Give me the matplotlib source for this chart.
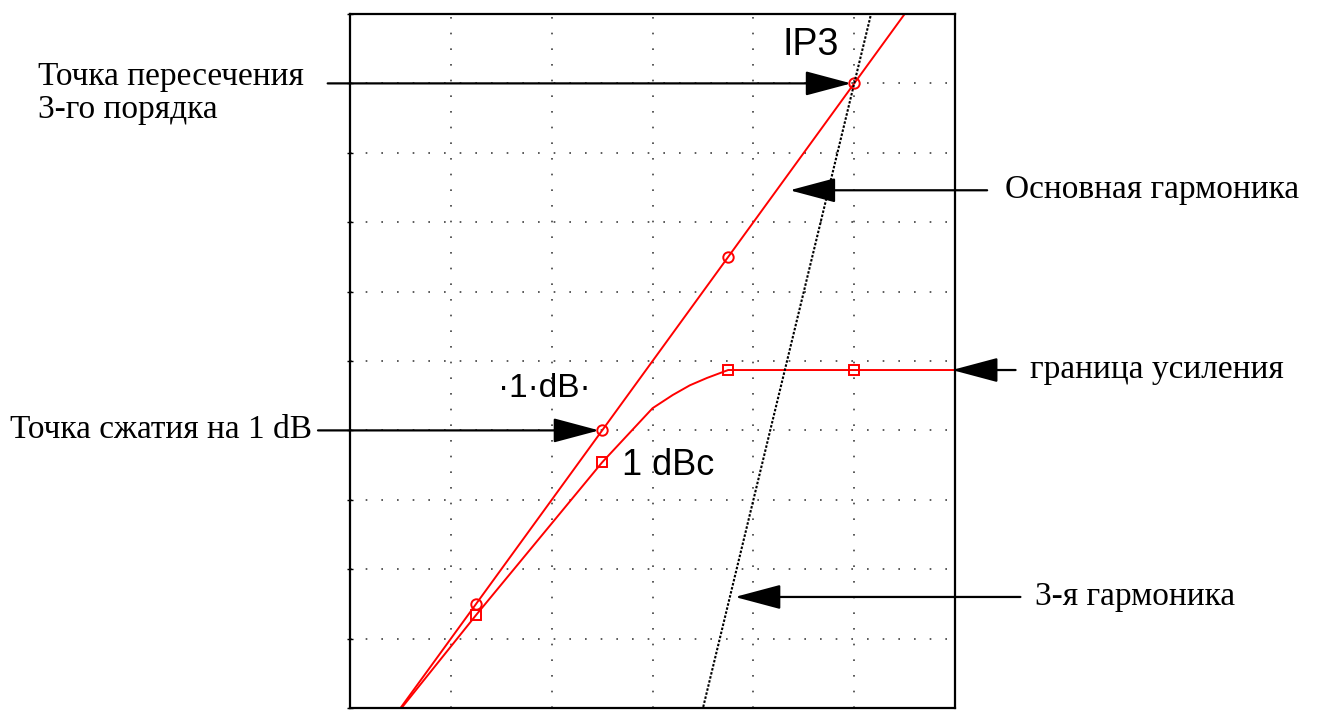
import numpy as np
import matplotlib
matplotlib.use("Agg")
import matplotlib.pyplot as plt

# input power (dBm) and output levels (dBm)
pin_fund = [-36, 20]
gain = 10
marker_pin = [-27.5, -15, -2.5, 10]

pin_comp = [-36, -27.5, -15, -10, -8, -6.3, -4.6, -2.5, 10, 20]
pout_comp = [-26.0, -18.3, -7.3, -3.4, -2.45, -1.75, -1.22, -0.65, -0.65, -0.65]

ip3_pin, ip3_pout = 10, 20
pin_h3 = [-6, 13]

xticks = [-40, -30, -20, -10, 0, 10, 20]
yticks = [-25, -20, -15, -10, -5, 0, 5, 10, 15, 20, 25]

serif = "Liberation Serif"
sans = "Liberation Sans"

fig = plt.figure(figsize=(13.23, 7.10), dpi=100)
ax = fig.add_axes([0.2646, 0.0028, 0.4573, 0.9775])
ax.set_xlim(xticks[0], xticks[-1])
ax.set_ylim(yticks[0], yticks[-1])
ax.set_xticks(xticks)
ax.set_yticks(yticks)
ax.set_xticklabels([])
ax.set_yticklabels([])
ax.tick_params(axis="y", direction="inout", length=5, width=1)
ax.tick_params(axis="x", length=0)
ax.grid(True, linestyle=(0, (1, 8.4)), color="0.25", lw=1.2)
for s in ax.spines.values():
    s.set_linewidth(1.6)

# fundamental
pf = np.array(pin_fund)
ax.plot(pf, pf + gain, color="red", lw=1.4)
mp = np.array(marker_pin)
ax.plot(mp, mp + gain, "o", color="red", mfc="none", ms=7.5, mew=1.4)

# compressed output
ax.plot(pin_comp, pout_comp, color="red", lw=1.4)
ax.plot(marker_pin, np.interp(marker_pin, pin_comp, pout_comp), "s",
        color="red", mfc="none", ms=7.5, mew=1.4)

# 3rd harmonic
ph = np.array(pin_h3)
ax.plot(ph, 3 * (ph - ip3_pin) + ip3_pout, color="black", lw=1.5,
        linestyle=(0, (1.2, 0.8)))

arrow = dict(arrowstyle="-|>,head_length=0.6,head_width=0.16",
             mutation_scale=48, color="black", lw=1.6, shrinkA=0, shrinkB=0)


def label_arrow(xy, x_start):
    ax.annotate("", xy=xy, xytext=(x_start, xy[1]),
                textcoords=("axes fraction", "data"),
                arrowprops=arrow, annotation_clip=False)


sat = pout_comp[-1]
h3_y = -17.0
fund_y = 12.3

label_arrow((ip3_pin - 0.3, ip3_pout), -0.037)
label_arrow((3.6, fund_y), 1.053)
label_arrow((xticks[-1] - 0.3, sat), 1.10)
label_arrow((-15.3, -5), -0.053)
label_arrow(((h3_y - ip3_pout) / 3 + ip3_pin + 0.5, h3_y), 1.108)

fs = 24
fig.text(38 / 1323, 1 - 93 / 710, "Точка пересечения\n3-го порядка",
         family=serif, fontsize=fs, ha="left", va="center", linespacing=1.12)
fig.text(1005 / 1323, 1 - 190 / 710, "Основная гармоника",
         family=serif, fontsize=fs, ha="left", va="center")
fig.text(1030 / 1323, 1 - 370 / 710, "граница усиления",
         family=serif, fontsize=fs, ha="left", va="center")
fig.text(10 / 1323, 1 - 430 / 710, "Точка сжатия на 1 dB",
         family=serif, fontsize=fs, ha="left", va="center")
fig.text(1035 / 1323, 1 - 597 / 710, "3-я гармоника",
         family=serif, fontsize=fs, ha="left", va="center")

ax.text(8.5, 22.8, "IP3", family=sans, fontsize=27, ha="right", va="center")
ax.text(-20.7, -2.0, "·1·dB·", family=sans, fontsize=24, ha="center", va="center")
ax.text(-13.0, -7.5, "1 dBc", family=sans, fontsize=26, ha="left", va="center")

fig.savefig("out.png", dpi=100)
